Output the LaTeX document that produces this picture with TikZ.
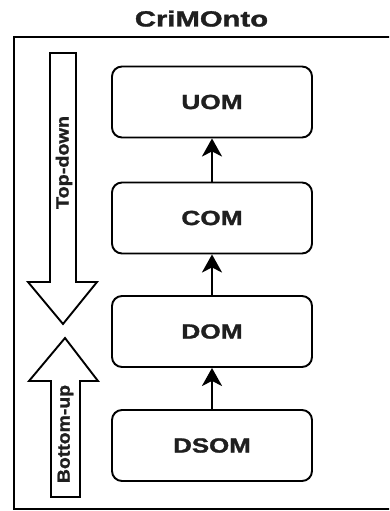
\documentclass[tikz,border=0pt]{standalone}
\usepackage{fontspec}
\setmainfont{Liberation Sans}[BoldFont={Liberation Sans Bold}, BoldFeatures={FakeBold=1.3}]
\usetikzlibrary{arrows.meta}
\tikzset{
  layerbox/.style={draw, line width=1.9bp, rounded corners=10bp, minimum width=200bp, minimum height=71bp, inner sep=0pt},
  layerlabel/.style={font=\fontsize{20.5bp}{24bp}\selectfont\bfseries, text=black!88},
  uparrow/.style={line width=2.4bp, -{Stealth[length=18bp,width=20bp,inset=5bp]}},
  blockarrow/.style={draw, line width=1.9bp, fill=white, line join=miter},
  sidelabel/.style={font=\fontsize{17.5bp}{20bp}\selectfont\bfseries, text=black!88, rotate=90, inner sep=0pt}
}
\begin{document}
\begin{tikzpicture}[x=1bp,y=-1bp]
\useasboundingbox (0,0) rectangle (389,511);
\clip (0,0) rectangle (389,511);
\fill[white] (0,0) rectangle (389,511);
% title
\node[anchor=base, inner sep=0pt, text=black!88, font=\fontsize{22bp}{25bp}\selectfont\bfseries] (title) at (201.5,26.5) {\scalebox{1.33}[1]{CriMOnto}};
% frame
\draw[line width=2.2bp] (395,37) -- (14,37) -- (14,509) -- (395,509);
% layer boxes
\node[layerbox] (uom) at (212,102) {};
\node[layerlabel] at (uom) {\scalebox{1.28}[1]{UOM}};
\node[layerbox] (com) at (212,218) {};
\node[layerlabel] at (com) {\scalebox{1.28}[1]{COM}};
\node[layerbox] (dom) at (212,331.5) {};
\node[layerlabel] at (dom) {\scalebox{1.28}[1]{DOM}};
\node[layerbox] (dsom) at (212,445.5) {};
\node[layerlabel] at (dsom) {\scalebox{1.26}[1]{DSOM}};
% connectors
\draw[uparrow] (com.north) -- (uom.south);
\draw[uparrow] (dom.north) -- (com.south);
\draw[uparrow] (dsom.north) -- (dom.south);
% block arrows
\draw[blockarrow] (50,53) -- (76,53) -- (76,282) -- (97,282) -- (63,324) -- (28,282) -- (50,282) -- cycle;
\draw[blockarrow] (51,497) -- (80,497) -- (80,381) -- (98,381) -- (65,338) -- (29,381) -- (51,381) -- cycle;
\node[sidelabel] (td) at (64,162.5) {\scalebox{1.13}[1]{Top-down}};
\node[sidelabel] (bu) at (65.5,434) {\scalebox{1.11}[1]{Bottom-up}};
\end{tikzpicture}
\end{document}
